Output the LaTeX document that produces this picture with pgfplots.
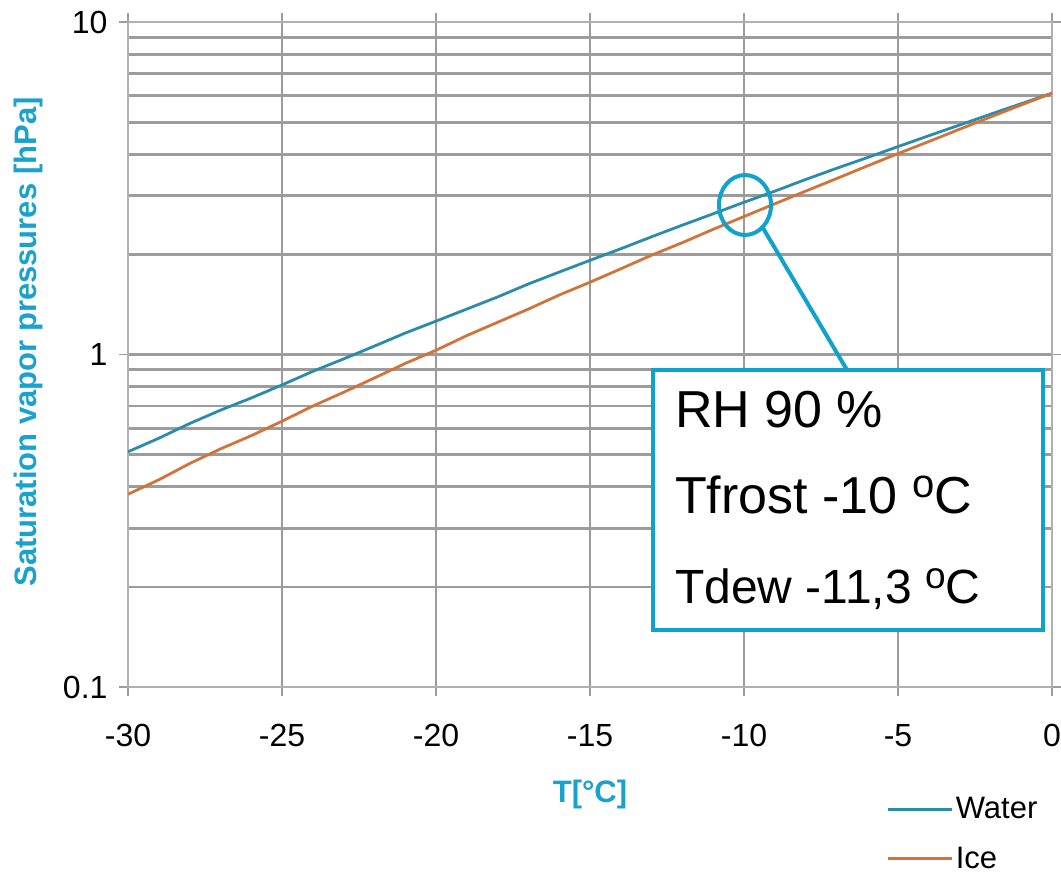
\documentclass[border=0pt]{standalone}
\usepackage{pgfplots}
\pgfplotsset{compat=1.18}
\usepackage{fontspec}
\setmainfont{Liberation Sans}
\definecolor{watercol}{HTML}{2A8BAA}
\definecolor{icecol}{HTML}{D2733A}
\definecolor{labcol}{HTML}{1AA2CE}
\definecolor{boxcol}{HTML}{0EA2CC}
\definecolor{gridcol}{HTML}{9C9C9C}
\newcommand{\degA}{\raisebox{16bp}{\fontsize{40bp}{44bp}\selectfont o}}
\newcommand{\degB}{\raisebox{14.5bp}{\fontsize{37bp}{40bp}\selectfont o}}
\begin{document}
\begin{tikzpicture}[x=1bp,y=1bp]
\useasboundingbox (0,0) rectangle (1061,-876);
\begin{axis}[
  at={(128bp,-687bp)}, anchor=south west,
  scale only axis, width=924bp, height=665bp,
  xmin=-30, xmax=0, ymode=log, ymin=0.1, ymax=10,
  xtick={-30,-25,-20,-15,-10,-5,0},
  xticklabels={-30,-25,-20,-15,-10,-5,0},
  ytick={0.1,1,10}, yticklabels={0.1,1,10},
  minor ytick={0.2,0.3,0.4,0.5,0.6,0.7,0.8,0.9,2,3,4,5,6,7,8,9},
  xmajorgrids, ymajorgrids, yminorgrids,
  grid style={gridcol, line width=2.8bp},
  major grid style={gridcol, line width=2.8bp},
  minor grid style={gridcol, line width=2.8bp},
  axis line style={draw=gridcol!80, line width=1.5bp},
  tick style={gridcol, line width=1.5bp},
  tick align=outside, major tick length=9bp, minor tick length=0pt,
  ticklabel style={font=\fontsize{32bp}{36bp}\selectfont, text=black},
  xticklabel style={yshift=-25bp},
  yticklabel style={xshift=-8bp},
  legend style={at={(0.821,-0.163)}, anchor=north west, draw=none, fill=none,
    font=\fontsize{31bp}{34bp}\selectfont, row sep=23bp, inner sep=0pt,
    legend cell align=left},
  legend image code/.code={\draw[#1, line width=3bp] (0bp,0bp) -- (64bp,0bp);},
]
\addplot[watercol, line width=2.8bp] coordinates {
(-30,0.51) (-29,0.56) (-28,0.62) (-27,0.68) (-26,0.74) (-25,0.81)
(-24,0.89) (-23,0.97) (-22,1.06) (-21,1.16) (-20,1.26) (-19,1.37)
(-18,1.49) (-17,1.63) (-16,1.77) (-15,1.92) (-14,2.08) (-13,2.26)
(-12,2.45) (-11,2.65) (-10,2.87) (-9,3.10) (-8,3.36) (-7,3.63)
(-6,3.91) (-5,4.22) (-4,4.55) (-3,4.90) (-2,5.28) (-1,5.68) (0,6.11)};
\addlegendentry{Water}
\addplot[icecol, line width=2.8bp] coordinates {
(-30,0.38) (-29,0.42) (-28,0.47) (-27,0.52) (-26,0.57) (-25,0.63)
(-24,0.70) (-23,0.77) (-22,0.85) (-21,0.94) (-20,1.03) (-19,1.14)
(-18,1.25) (-17,1.37) (-16,1.51) (-15,1.65) (-14,1.81) (-13,1.99)
(-12,2.17) (-11,2.38) (-10,2.60) (-9,2.84) (-8,3.10) (-7,3.38)
(-6,3.69) (-5,4.02) (-4,4.37) (-3,4.76) (-2,5.18) (-1,5.63) (0,6.11)};
\addlegendentry{Ice}
\end{axis}
% axis labels
\node[rotate=90, text=labcol, font=\bfseries\fontsize{31bp}{34bp}\selectfont] at (28,-342) {Saturation vapor pressures [hPa]};
\node[text=labcol, font=\bfseries\fontsize{31bp}{34bp}\selectfont] at (590,-794) {T[°C]};
% callout
\draw[boxcol, line width=4bp] (745,-205) ellipse [x radius=26, y radius=30];
\draw[boxcol, line width=4bp] (763,-228) -- (847,-370);
\draw[boxcol, line width=4bp, fill=white] (653,-370) rectangle (1043,-630);
\node[anchor=base west, inner sep=0pt, font=\fontsize{52bp}{60bp}\selectfont] at (675,-427) {RH 90 \%};
\node[anchor=base west, inner sep=0pt, font=\fontsize{52bp}{60bp}\selectfont] at (675,-513) {Tfrost -10 \degA C};
\node[anchor=base west, inner sep=0pt, font=\fontsize{48bp}{56bp}\selectfont] at (675,-603) {Tdew -11,3 \degB C};
\end{tikzpicture}
\end{document}
